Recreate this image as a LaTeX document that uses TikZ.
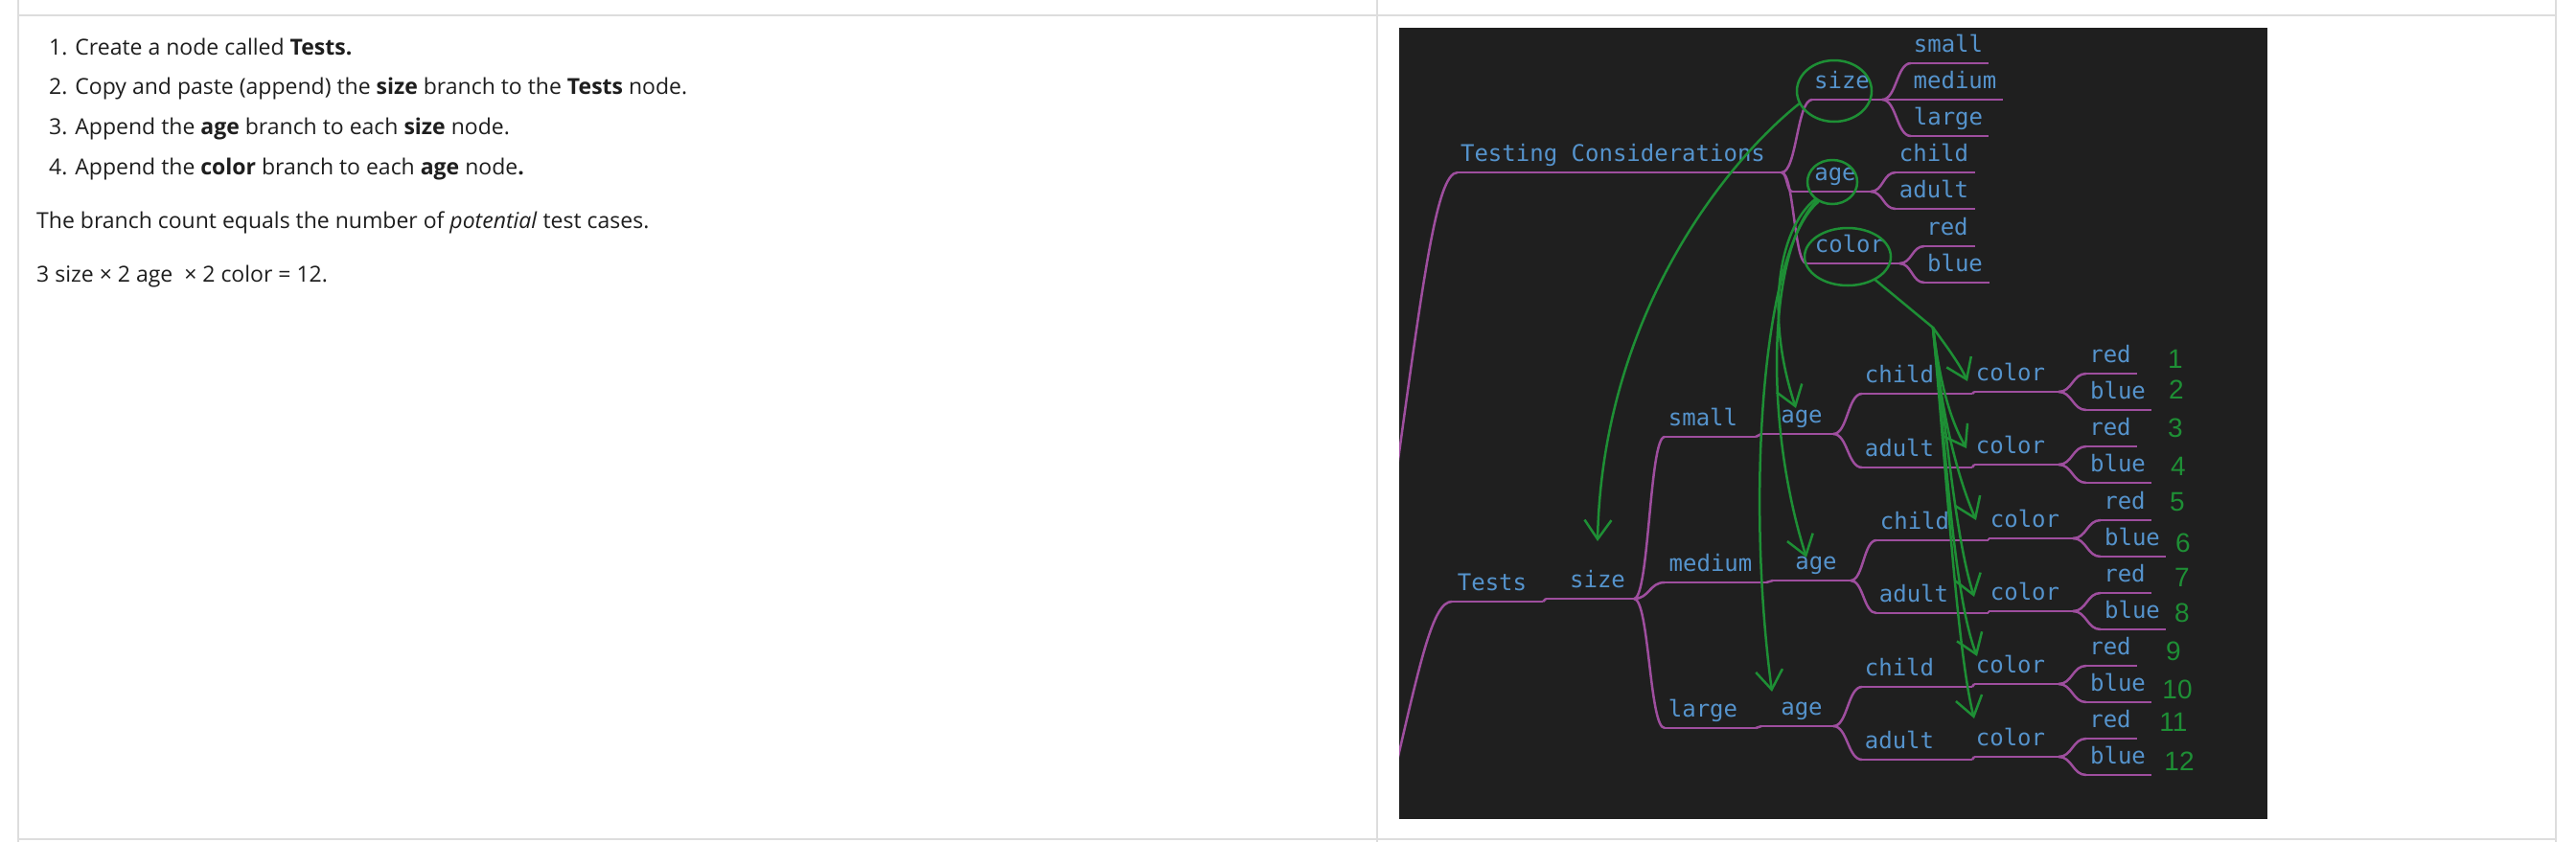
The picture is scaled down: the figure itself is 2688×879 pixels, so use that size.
\documentclass[tikz,border=0pt]{standalone}
\usepackage{fontspec}
\setmainfont{Open Sans}
\newfontfamily\codefont{DejaVu Sans Mono}
\newfontfamily\inkfont{Liberation Sans}
\usetikzlibrary{arrows.meta,calc,shapes.geometric}

\definecolor{gridgray}{HTML}{DDDDDD}
\definecolor{bodyink}{HTML}{1E1E1E}
\definecolor{panelbg}{HTML}{1F1F1F}
\definecolor{mmblue}{HTML}{5593CC}
\definecolor{mmpink}{HTML}{9E4E9E}
\definecolor{inkgreen}{HTML}{1E8F35}

\begin{document}
\begin{tikzpicture}[x=1pt,y=-1pt,
      tabline/.style={draw=gridgray,line width=2pt},
      bodytext/.style={
         anchor=base west,
         inner sep=0pt,
         text=bodyink,
         font=\fontsize{23}{27}\selectfont},
      mmtext/.style={
         anchor=base,
         inner sep=0pt,
         text=mmblue,
         font=\codefont\fontsize{24}{28}\selectfont},
      mmline/.style={draw=mmpink,line width=2.5pt},
      ring/.style={
         ellipse,
         draw=inkgreen,
         line width=2.5pt,
         inner sep=0pt},
      inkline/.style={
         draw=inkgreen,
         line width=2.5pt,
         line cap=round},
      ink/.style={
         inkline,
         -{Straight Barb[length=20pt,width=28pt]}},
      inknum/.style={
         inner sep=0pt,
         text=inkgreen,
         font=\inkfont\fontsize{28}{28}\selectfont},
      ]
      \fill[white] (0,0) rectangle (2688,879);
      \useasboundingbox (0,0) rectangle (2688,879);
    \foreach \gx in {19,1437,2667}
       \draw[tabline] (\gx,0) -- (\gx,879);
    \foreach \gy in {16,876}
       \draw[tabline] (19,\gy) -- (2667,\gy);

      \node[bodytext] (step1) at (51,57) {1. Create a node called \textbf{Tests.}};
      \node[bodytext] (step2) at (51,98) {2. Copy and paste (append) the \textbf{size} branch to the \textbf{Tests} node.};
      \node[bodytext] (step3) at (51,140) {3. Append the \textbf{age} branch to each \textbf{size} node.};
      \node[bodytext] (step4) at (51,182) {4. Append the \textbf{color} branch to each \textbf{age} node\textbf{.}};
      \node[bodytext] (count) at (38,238) {The branch count equals the number of \textit{potential} test cases.};
      \node[bodytext] (product) at (38,294) {3 size × 2 age~ × 2 color = 12.};

      \node[fill=panelbg,anchor=north west,inner sep=0pt,outer sep=0pt,
         minimum width=906pt,minimum height=826pt] (panel) at (1460,29) {};

    \foreach \n/\t/\cx/\xs/\xe/\ly in {
      tc/Testing Considerations/1683/1521/1859/180,
      sA/size/1922/1891/1964/104,
      smA/small/2033/1994/2075/66,
      meA/medium/2040/1994/2090/104,
      laA/large/2033/1994/2075/142,
      agA/age/1915/1870/1952/200,
      chA/child/2018/1978/2061/180,
      adA/adult/2018/1978/2061/218,
      coA/color/1930/1885/1982/275,
      reA/red/2032/2008/2061/257,
      blA/blue/2040/2008/2076/295,
      te/Tests/1557/1515/1610/628,
      sB/size/1667/1613/1705/625,
      sm/small/1777/1737/1832/456,
      me/medium/1785/1737/1843/608,
      la/large/1777/1737/1832/760,
      ag1/age/1880/1838/1913/453,
      ag2/age/1895/1850/1931/606,
      ag3/age/1880/1838/1913/758,
      ch1/child/1982/1943/2058/411,
      ad1/adult/1982/1943/2058/488,
      ch2/child/1998/1958/2075/564,
      ad2/adult/1997/1958/2075/640,
      ch3/child/1982/1943/2058/717,
      ad3/adult/1982/1943/2058/793}{
       \coordinate (L\n) at (\xs,\ly);
       \coordinate (R\n) at (\xe,\ly);
       \draw[mmline] (L\n) -- (R\n);
       \node[mmtext] (\n) at (\cx,\ly-12) {\t};
    }
    \foreach \i/\yc/\off in {1/409/0,2/485/0,3/562/15,4/638/15,5/714/0,6/790/0}{
       \coordinate (Lco\i) at (2060+\off,\yc);
       \coordinate (Rco\i) at (2148+\off,\yc);
       \coordinate (Lre\i) at (2177+\off,\yc-19);
       \coordinate (Rre\i) at (2230+\off,\yc-19);
       \coordinate (Lbl\i) at (2177+\off,\yc+19);
       \coordinate (Rbl\i) at (2245+\off,\yc+19);
       \draw[mmline] (Lco\i) -- (Rco\i);
       \draw[mmline] (Lre\i) -- (Rre\i);
       \draw[mmline] (Lbl\i) -- (Rbl\i);
       \node[mmtext] (co\i) at (2098+\off,\yc-12) {color};
       \node[mmtext] (re\i) at (2202+\off,\yc-31) {red};
       \node[mmtext] (bl\i) at (2210+\off,\yc+7) {blue};
    }
    \foreach \a/\b in {
      tc/sA,tc/agA,tc/coA,sA/smA,sA/meA,sA/laA,agA/chA,agA/adA,coA/reA,coA/blA,
      te/sB,sB/sm,sB/me,sB/la,sm/ag1,me/ag2,la/ag3,
      ag1/ch1,ag1/ad1,ag2/ch2,ag2/ad2,ag3/ch3,ag3/ad3,
      ch1/co1,ad1/co2,ch2/co3,ad2/co4,ch3/co5,ad3/co6,
      co1/re1,co1/bl1,co2/re2,co2/bl2,co3/re3,co3/bl3,
      co4/re4,co4/bl4,co5/re5,co5/bl5,co6/re6,co6/bl6}
       \draw[mmline] let \p1=(R\a),\p2=(L\b) in
          (\p1) .. controls ({(\x1+\x2)/2},\y1) and ({(\x1+\x2)/2},\y2) .. (\p2);

      \coordinate (upstem) at (1450,545);
      \coordinate (lowstem) at (1452,820);
    \begin{scope}
      \clip (panel.south west) rectangle (panel.north east);
      \draw[mmline] (Ltc) .. controls (1498,180) and (1484,300) .. (upstem);
      \draw[mmline] (Lte) .. controls (1495,628) and (1482,690) .. (lowstem);
    \end{scope}

      \node[ring,minimum width=78pt,minimum height=64pt] (ringsize) at (1914,95) {};
      \node[ring,minimum width=52pt,minimum height=46pt] (ringage) at (1912,190) {};
      \node[ring,minimum width=90pt,minimum height=60pt] (ringcolor) at (1928,268) {};

      \coordinate (tipsize) at (1667,565);
      \coordinate (tipage1) at (1874,426);
      \coordinate (tipage2) at (1885,582);
      \coordinate (tipage3) at (1849,722);
      \coordinate (fork) at (2017,342);
    \foreach \k/\tx/\ty in {1/2053/398,2/2052/468,3/2062/543,4/2060/623,5/2063/685,6/2060/750}
       \coordinate (tipco\k) at (\tx,\ty);

      \draw[ink] (ringsize.200) .. controls (1800,170) and (1672,330) .. (tipsize);
      \draw[ink] (ringage.225) .. controls (1855,240) and (1842,330) .. (tipage1);
      \draw[ink] (ringage.230) .. controls (1845,260) and (1840,440) .. (tipage2);
      \draw[ink] (ringage.235) .. controls (1838,260) and (1822,520) .. (tipage3);
      \draw[inkline] (ringcolor.320) -- (fork);
    \foreach \k/\ca/\cb/\cc/\cd in {
      1/2030/360/2045/380,
      2/2022/380/2030/430,
      3/2022/400/2035/480,
      4/2030/440/2040/560,
      5/2030/460/2038/620,
      6/2030/480/2042/680}
       \draw[ink] (fork) .. controls (\ca,\cb) and (\cc,\cd) .. (tipco\k);

    \foreach \k/\nx/\ny in {1/2270/375,2/2271/407,3/2270/447,4/2273/487,
      5/2272/524,6/2278/567,7/2277/603,8/2277/640,
      9/2268/680,10/2272/720,11/2268/754,12/2274/795}
       \node[inknum] (num\k) at (\nx,\ny) {\k};
\end{tikzpicture}
\end{document}
